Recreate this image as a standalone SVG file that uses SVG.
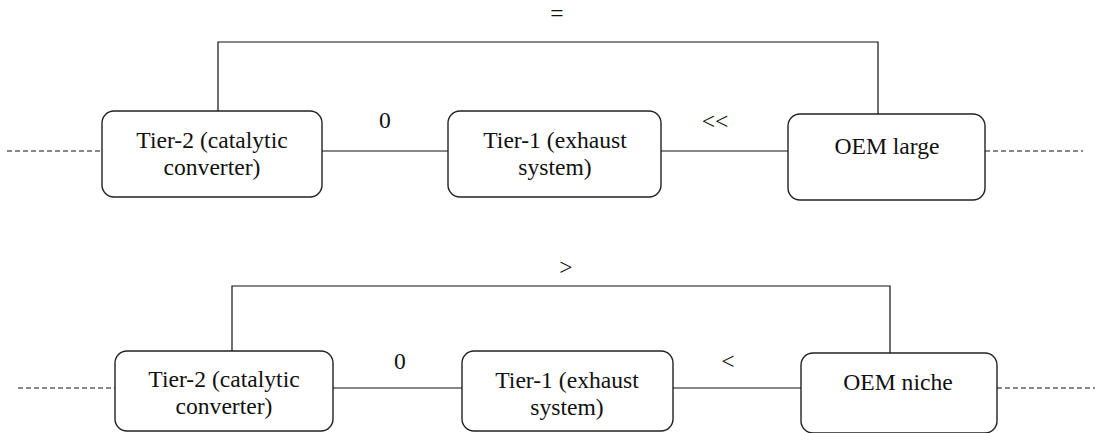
<svg xmlns="http://www.w3.org/2000/svg" width="1095" height="433" viewBox="0 0 1095 433">
<style>
.box{fill:#fff;stroke:#222;stroke-width:1.4}
.ln{fill:none;stroke:#111;stroke-width:1.2}
.dash{fill:none;stroke:#111;stroke-width:1.2;stroke-dasharray:5,3}
text{font-family:"Liberation Serif","Times New Roman",serif;font-size:23.6px;fill:#111;text-anchor:middle}
</style>
<rect width="1095" height="433" fill="#fff"/>
<g id="connectors">
<polyline class="ln" points="218,111 218,42 878,42 878,114"/>
<line class="ln" x1="322" y1="151" x2="448" y2="151"/>
<line class="ln" x1="661" y1="151" x2="788" y2="151"/>
<line class="dash" x1="7" y1="151" x2="102" y2="151"/>
<line class="dash" x1="985" y1="151" x2="1083" y2="151"/>
<text x="557" y="21">=</text>
<text x="385" y="128">0</text>
<text x="715" y="129">&lt;&lt;</text>
<polyline class="ln" points="232,351 232,286 890,286 890,353"/>
<line class="ln" x1="333" y1="388" x2="462" y2="388"/>
<line class="ln" x1="673" y1="388" x2="801" y2="388"/>
<line class="dash" x1="18" y1="388" x2="115" y2="388"/>
<line class="dash" x1="997" y1="388" x2="1095" y2="388"/>
<text x="566" y="275">&gt;</text>
<text x="400" y="369">0</text>
<text x="728" y="369">&lt;</text>
</g>
<g id="tier2-large">
<rect class="box" x="102" y="111" width="220" height="86" rx="12"/>
<text x="212" y="148">Tier-2 (catalytic</text>
<text x="212" y="175">converter)</text>
</g>
<g id="tier1-large">
<rect class="box" x="448" y="111" width="213" height="86" rx="12"/>
<text x="555" y="148">Tier-1 (exhaust</text>
<text x="555" y="175">system)</text>
</g>
<g id="oem-large">
<rect class="box" x="788" y="114" width="197" height="86" rx="12"/>
<text x="887" y="154">OEM large</text>
</g>
<g id="tier2-niche">
<rect class="box" x="115" y="351" width="218" height="80" rx="12"/>
<text x="224" y="387">Tier-2 (catalytic</text>
<text x="224" y="414">converter)</text>
</g>
<g id="tier1-niche">
<rect class="box" x="462" y="351" width="211" height="80" rx="12"/>
<text x="567" y="388">Tier-1 (exhaust</text>
<text x="567" y="415">system)</text>
</g>
<g id="oem-niche">
<rect class="box" x="801" y="353" width="196" height="80" rx="12"/>
<text x="898" y="390">OEM niche</text>
</g>
</svg>
